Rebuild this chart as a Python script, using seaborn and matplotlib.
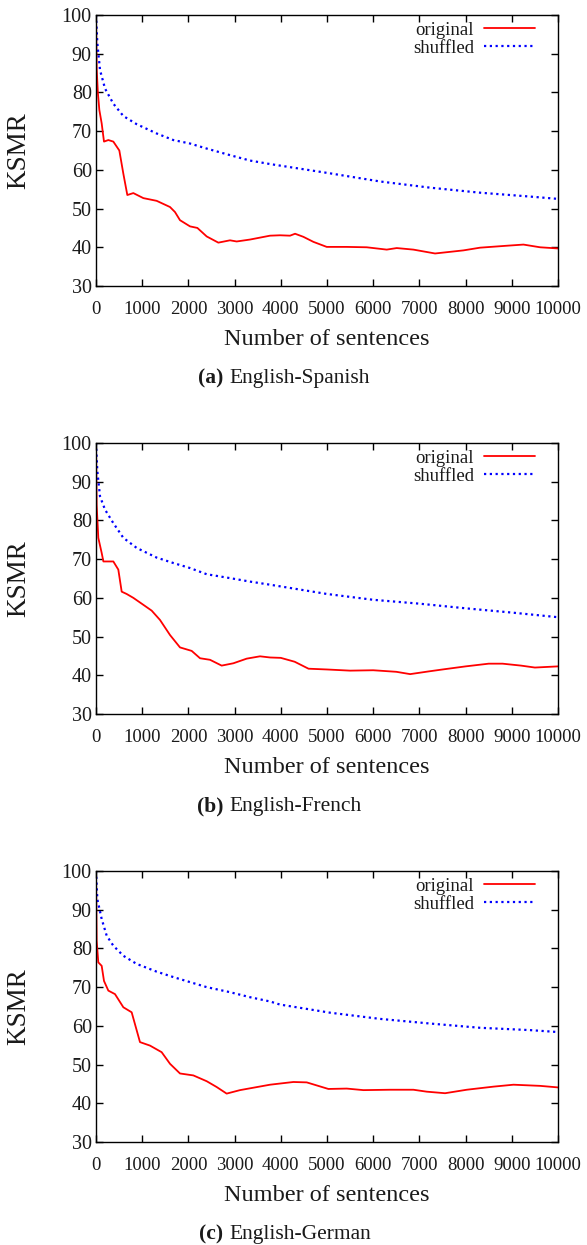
import numpy as np
import pandas as pd
import matplotlib
matplotlib.use("Agg")
import matplotlib.pyplot as plt
import seaborn as sns

# ---------------- data ----------------
x_ticks = [0, 1000, 2000, 3000, 4000, 5000, 6000, 7000, 8000, 9000, 10000]
y_ticks = [30, 40, 50, 60, 70, 80, 90, 100]

# (a) English-Spanish
es_orig_x = [0, 15, 40, 72, 123, 173, 267, 375, 505, 592, 678, 808, 1025, 1313, 1602, 1710,
             1818, 2035, 2194, 2396, 2648, 2900, 3045, 3334, 3767, 3983, 4200, 4309, 4489,
             4706, 4994, 5427, 5860, 6293, 6509, 6870, 7339, 7953, 8313, 8891, 9252, 9613, 10000]
es_orig_y = [100, 86, 80, 75.5, 72, 67.3, 67.7, 67.3, 65, 59, 53.5, 54, 52.7, 52, 50.4, 49.1,
             47, 45.4, 45, 42.8, 41.2, 41.8, 41.5, 42, 43, 43.1, 43, 43.5, 42.7,
             41.4, 40.1, 40.1, 40, 39.4, 39.8, 39.4, 38.4, 39.2, 39.9, 40.4, 40.7, 40, 39.7]
es_shuf_x = [0, 29, 87, 195, 375, 592, 880, 1313, 1674, 2035, 2396, 2900, 3334, 3767, 3983,
             5066, 6148, 7231, 8313, 9396, 10000]
es_shuf_y = [100, 92.7, 85.8, 81, 77.1, 73.9, 71.8, 69.4, 67.7, 66.8, 65.5, 63.8, 62.4, 61.5, 61.1,
             59.1, 57, 55.4, 54.1, 53.1, 52.5]

# (b) English-French
fr_orig_x = [0, 14, 50, 123, 160, 267, 375, 483, 556, 664, 808, 1025, 1205, 1385, 1602, 1818,
             2071, 2252, 2468, 2720, 2973, 3262, 3550, 3767, 4000, 4300, 4600, 5000, 5500,
             6000, 6500, 6800, 7200, 7500, 8000, 8500, 8800, 9200, 9500, 10000]
fr_orig_y = [100, 84, 75.5, 71.6, 69.4, 69.4, 69.4, 67.3, 61.6, 61, 60, 58.2, 56.7, 54.3, 50.4, 47.2,
             46.3, 44.4, 44, 42.5, 43.1, 44.3, 44.9, 44.6, 44.5, 43.5, 41.7, 41.5, 41.2,
             41.3, 40.9, 40.3, 41, 41.5, 42.3, 43, 43, 42.5, 42, 42.3]
fr_shuf_x = [0, 29, 87, 195, 375, 592, 880, 1313, 1674, 2035, 2396, 2900, 3334, 3767,
             5000, 6000, 7000, 8000, 9000, 10000]
fr_shuf_y = [100, 92.7, 86.2, 82.8, 79.3, 75.5, 72.9, 70.4, 69, 67.7, 66.1, 65.1, 64.2, 63.4,
             61, 59.5, 58.5, 57.3, 56.2, 55]

# (c) English-German
de_orig_x = [0, 14, 50, 123, 173, 267, 411, 592, 772, 952, 1169, 1421, 1602, 1818, 2107, 2396,
             2612, 2828, 3117, 3767, 3983, 4272, 4561, 5030, 5427, 5788, 6365, 6870, 7159,
             7556, 8025, 8603, 9036, 9613, 10000]
de_orig_y = [100, 82, 76.4, 75.5, 71.6, 69.1, 68.2, 64.8, 63.5, 55.8, 54.9, 53.2, 50.2, 47.7, 47.2, 45.7,
             44.2, 42.5, 43.4, 44.8, 45.1, 45.5, 45.4, 43.7, 43.8, 43.4, 43.5, 43.5, 43,
             42.6, 43.5, 44.3, 44.8, 44.5, 44.1]
de_shuf_x = [0, 29, 123, 231, 375, 592, 880, 1313, 1674, 2035, 2396, 2900, 3334, 3767, 3983,
             5066, 6148, 7231, 8313, 9396, 10000]
de_shuf_y = [100, 92.7, 87.6, 83.3, 80.7, 78.1, 76, 74, 72.6, 71.3, 70, 68.7, 67.4, 66.3, 65.5,
             63.4, 61.8, 60.6, 59.5, 58.9, 58.4]

panels = [
    ("(a)", "English-Spanish", es_orig_x, es_orig_y, es_shuf_x, es_shuf_y),
    ("(b)", "English-French", fr_orig_x, fr_orig_y, fr_shuf_x, fr_shuf_y),
    ("(c)", "English-German", de_orig_x, de_orig_y, de_shuf_x, de_shuf_y),
]

# ---------------- style ----------------
sns.set_style("ticks")
plt.rcParams["font.family"] = ["Liberation Serif", "DejaVu Serif"]
plt.rcParams["axes.linewidth"] = 1.0

W, H = 587, 1245
fig = plt.figure(figsize=(W / 100, H / 100), dpi=100)

ax_left, ax_right = 96, 558
tops = [15, 443, 871]
ax_h_px = 271
txt_col = "#1a1a1a"

for i, (tag, name, ox, oy, sx, sy) in enumerate(panels):
    top = tops[i]
    ax = fig.add_axes([ax_left / W, 1 - (top + ax_h_px) / H,
                       (ax_right - ax_left) / W, ax_h_px / H])
    sns.lineplot(x=ox, y=oy, ax=ax, color="#ff0000", linewidth=1.3,
                 label="original", sort=False)
    sns.lineplot(x=sx, y=sy, ax=ax, color="#0000ff", linewidth=1.6,
                 linestyle=(0, (1, 1.6)), label="shuffled", sort=False)
    ax.set_xlim(0, 10000)
    ax.set_ylim(30, 100)
    ax.set_xticks(x_ticks)
    ax.set_yticks(y_ticks)
    ax.tick_params(direction="in", top=True, right=True, length=5, width=1,
                   colors="black", labelcolor=txt_col)
    ax.tick_params(axis="x", pad=11, labelsize=13.5)
    ax.tick_params(axis="y", pad=3, labelsize=14.5)
    for sp in ax.spines.values():
        sp.set_visible(True)
        sp.set_color("black")
    ax.set_xlabel("Number of sentences", fontsize=17.5, color=txt_col)
    ax.xaxis.set_label_coords(0.5, -0.16)
    ax.set_ylabel("KSMR", fontsize=19.5, color=txt_col)
    ax.yaxis.set_label_coords(-0.14, 0.5)
    leg = ax.legend(loc="upper right", bbox_to_anchor=(0.950, 0.975),
                    frameon=False, markerfirst=False, fontsize=13.5,
                    handlelength=2.7, handletextpad=0.55, labelspacing=0.05,
                    borderpad=0, borderaxespad=0)
    for t in leg.get_texts():
        t.set_color(txt_col)
    base = top + 368
    fig.text(223 / W, 1 - base / H, tag, fontsize=15.5, fontweight="bold",
             ha="right", va="baseline", color=txt_col)
    fig.text(229 / W, 1 - base / H, name, fontsize=15.5,
             ha="left", va="baseline", color=txt_col)

fig.savefig("out.png", dpi=100)
